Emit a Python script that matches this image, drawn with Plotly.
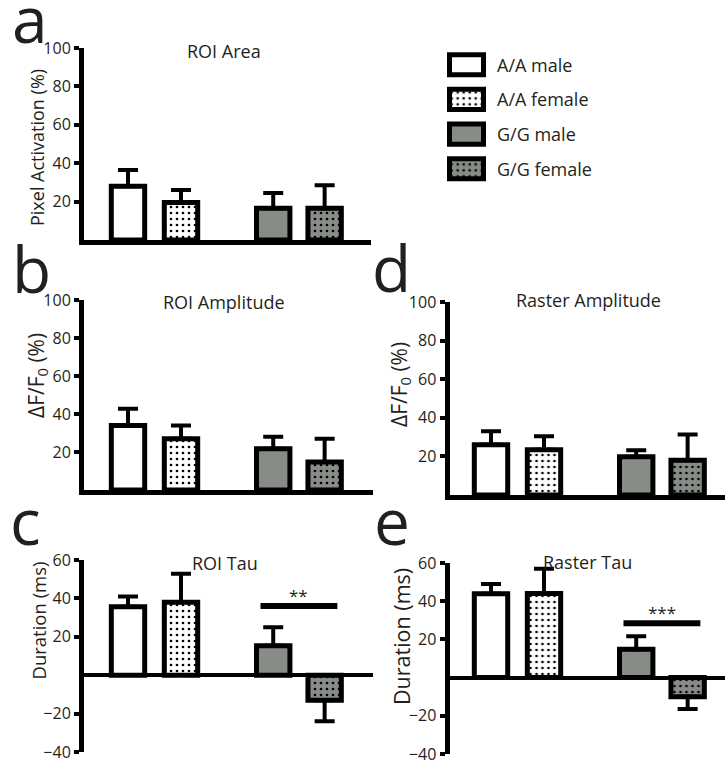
import plotly.graph_objects as go

W, H = 725, 765

# ---------------- data ----------------
groups = ["A/A male", "A/A female", "G/G male", "G/G female"]

roi_area_mean = [28, 19.5, 16.5, 16.5]
roi_area_sem = [8.5, 6.5, 8, 12]

roi_amp_mean = [34, 27, 21.7, 14.8]
roi_amp_sem = [8.8, 7, 6.3, 12.2]

raster_amp_mean = [26, 23.4, 19.8, 18]
raster_amp_sem = [7, 7, 3.4, 13.4]

roi_tau_mean = [35.7, 38, 15.3, -13]
roi_tau_sem = [5.3, 14.8, 9.7, 11]

raster_tau_mean = [43.9, 44, 14.8, -10]
raster_tau_sem = [5.1, 13, 6.9, 6.5]

roi_tau_sig_y = 36
roi_tau_sig_label = "**"
raster_tau_sig_y = 28.4
raster_tau_sig_label = "***"

# ---------------- style / layout ----------------
bar_pos = [0, 1, 2.74, 3.71]
GRAY = "#878c87"
fills = ["#ffffff", "#ffffff", GRAY, GRAY]
dots = ["", ".", "", "."]
TXT = "#231f20"
FONT = "Open Sans"
UNIT = 53.0  # px per x unit
BW = 0.63
LETTER_SIZE = 64


def fx(px):
    return px / W


def fy(py):
    return 1 - py / H


def marker_style(i):
    m = dict(color=fills[i], line=dict(color="black", width=5))
    if dots[i]:
        m["pattern"] = dict(shape=dots[i], fgcolor="black", bgcolor=fills[i],
                            size=6, solidity=0.16, fillmode="replace")
    return m


panels = [
    dict(ax="", title="ROI Area", ytitle="Pixel Activation (%)", mean=roi_area_mean, sem=roi_area_sem,
         dx=(84, 371), dy=(48, 240), yr=[0, 100], tv=[20, 40, 60, 80, 100], c0=128,
         tpos=(224, 51), ypos=(37, 148), ysize=18, letter="a", lpos=(30, 43), base=True),
    dict(ax="2", title="ROI Amplitude", ytitle="ΔF/F<sub>0</sub> (%)", mean=roi_amp_mean, sem=roi_amp_sem,
         dx=(84, 373), dy=(300, 490), yr=[0, 100], tv=[20, 40, 60, 80, 100], c0=128,
         tpos=(224, 302), ypos=(37, 376), ysize=21, letter="b", lpos=(32, 293), base=True),
    dict(ax="3", title="Raster Amplitude", ytitle="ΔF/F<sub>0</sub> (%)", mean=raster_amp_mean, sem=raster_amp_sem,
         dx=(449.5, 725), dy=(302, 495), yr=[0, 100], tv=[20, 40, 60, 80, 100], c0=491,
         tpos=(588, 300), ypos=(400, 385), ysize=21, letter="d", lpos=(392, 292), base=True),
    dict(ax="4", title="ROI Tau", ytitle="Duration (ms)", mean=roi_tau_mean, sem=roi_tau_sem,
         dx=(84, 373), dy=(560, 752), yr=[-40, 60], tv=[-40, -20, 20, 40, 60], c0=128,
         tpos=(225, 563), ypos=(37.5, 621), ysize=18.5, letter="c", lpos=(25, 545), base=False,
         sig=(roi_tau_sig_y, roi_tau_sig_label)),
    dict(ax="5", title="Raster Tau", ytitle="Duration (ms)", mean=raster_tau_mean, sem=raster_tau_sem,
         dx=(449.5, 725), dy=(563, 754), yr=[-40, 60], tv=[-40, -20, 20, 40, 60], c0=491,
         tpos=(587, 562), ypos=(401, 637), ysize=21.5, letter="e", lpos=(392, 545), base=False,
         sig=(raster_tau_sig_y, raster_tau_sig_label)),
]

fig = go.Figure()
layout = dict(
    width=W, height=H, margin=dict(l=0, r=0, t=0, b=0, pad=0, autoexpand=False),
    paper_bgcolor="white", plot_bgcolor="rgba(0,0,0,0)",
    showlegend=False, font=dict(family=FONT, color=TXT), barmode="overlay",
)
annotations = []

for p in panels:
    xa = "x" + p["ax"]
    ya = "y" + p["ax"]
    for i, g in enumerate(groups):
        m, s = p["mean"][i], p["sem"][i]
        fig.add_trace(go.Bar(
            x=[bar_pos[i]], y=[m], width=BW, marker=marker_style(i), name=g,
            error_y=dict(type="data", symmetric=False,
                         array=[s if m >= 0 else 0], arrayminus=[s if m < 0 else 0],
                         color="black", thickness=4, width=10),
            xaxis=xa, yaxis=ya, hoverinfo="skip",
        ))
    if "sig" in p:
        sy, lab = p["sig"]
        x0 = bar_pos[2] - 0.24
        x1 = bar_pos[3] + 0.24
        fig.add_trace(go.Scatter(x=[x0, x1], y=[sy, sy], mode="lines",
                                 line=dict(color="black", width=6),
                                 xaxis=xa, yaxis=ya, hoverinfo="skip"))
        annotations.append(dict(x=(x0 + x1) / 2, y=sy, xref=xa, yref=ya, text=lab,
                                showarrow=False, yanchor="middle", yshift=11,
                                font=dict(size=17, color=TXT, family=FONT)))
    l, r = p["dx"]
    t, b = p["dy"]
    xr = [(l - p["c0"]) / UNIT, (r - p["c0"]) / UNIT]
    layout["xaxis" + p["ax"]] = dict(
        domain=[fx(l), fx(r)], range=xr, anchor=ya, showgrid=False, zeroline=False,
        showticklabels=False, ticks="", showline=p["base"], linecolor="black", linewidth=5,
        fixedrange=True, automargin=False,
    )
    layout["yaxis" + p["ax"]] = dict(
        domain=[fy(b), fy(t)], range=p["yr"], anchor=xa, showgrid=False,
        zeroline=not p["base"], zerolinecolor="black", zerolinewidth=4,
        showline=True, linecolor="black", linewidth=5,
        ticks="outside", ticklen=5, tickwidth=4, tickcolor="black",
        tickvals=p["tv"], tickfont=dict(size=16, color=TXT, family=FONT),
        fixedrange=True, automargin=False,
    )
    annotations.append(dict(x=fx(p["tpos"][0]), y=fy(p["tpos"][1]), xref="paper", yref="paper",
                            text=p["title"], showarrow=False, xanchor="center", yanchor="middle",
                            font=dict(size=18, color=TXT, family=FONT)))
    annotations.append(dict(x=fx(p["ypos"][0]), y=fy(p["ypos"][1]), xref="paper", yref="paper",
                            text=p["ytitle"], showarrow=False, textangle=-90,
                            xanchor="center", yanchor="middle",
                            font=dict(size=p["ysize"], color=TXT, family=FONT)))
    annotations.append(dict(x=fx(p["lpos"][0]), y=fy(p["lpos"][1] - 0.388 * LETTER_SIZE),
                            xref="paper", yref="paper",
                            text=p["letter"], showarrow=False, xanchor="center", yanchor="middle",
                            font=dict(size=LETTER_SIZE, color=TXT, family=FONT)))

# ---------------- legend (swatch subplot) ----------------
row_h = 34.7
leg_top = 47.35
lx0 = 449.5
lunit = 34.0
for i, g in enumerate(groups):
    fig.add_trace(go.Bar(
        y=[g], x=[1], base=0, orientation="h", width=0.58, name=g,
        marker=marker_style(i), xaxis="x6", yaxis="y6", hoverinfo="skip",
    ))
    annotations.append(dict(x=fx(495), y=fy(leg_top + (i + 0.5) * row_h), xref="paper", yref="paper",
                            text=g, showarrow=False, xanchor="left", yanchor="middle",
                            font=dict(size=18, color=TXT, family=FONT)))
layout["xaxis6"] = dict(domain=[fx(lx0 - 0.2 * lunit), fx(lx0 + 1.2 * lunit)], range=[-0.2, 1.2],
                        anchor="y6", visible=False, fixedrange=True, automargin=False)
layout["yaxis6"] = dict(domain=[fy(leg_top + 4 * row_h), fy(leg_top)], range=[3.5, -0.5],
                        anchor="x6", visible=False, type="category", categoryarray=groups,
                        fixedrange=True, automargin=False)

layout["annotations"] = annotations
fig.update_layout(**layout)
fig.write_html("out.html")
